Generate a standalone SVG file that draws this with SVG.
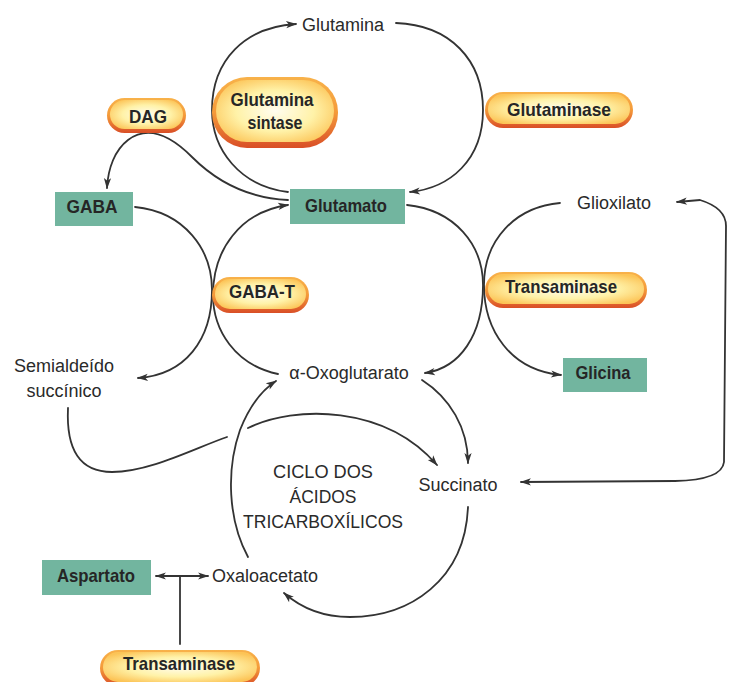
<svg xmlns="http://www.w3.org/2000/svg" width="731" height="682" viewBox="0 0 731 682">
<style>
.bg{fill:#ffffff}
.c{fill:none;stroke:#333;stroke-width:1.8;stroke-linecap:round}
.a{marker-end:url(#ah)}
.b{marker-start:url(#ah);marker-end:url(#ah)}
.t{font-family:"Liberation Sans",Arial,sans-serif;font-size:18px;fill:#2a2a2a;text-anchor:middle}
.bt{font-family:"Liberation Sans",Arial,sans-serif;font-size:19px;font-weight:bold;fill:#262626;text-anchor:middle}
.box{fill:#72b59f}
.po{fill:url(#rim)}
.pi{fill:url(#core)}
</style>
<defs>
<marker id="ah" viewBox="0 0 12 10" refX="11" refY="5" markerWidth="12" markerHeight="9" markerUnits="userSpaceOnUse" orient="auto-start-reverse">
<path d="M0,1 L12,5 L0,9 L3,5 z" fill="#333"/>
</marker>
<linearGradient id="rim" x1="0" y1="0" x2="0" y2="1">
<stop offset="0" stop-color="#f8b24a"/>
<stop offset="0.5" stop-color="#f49a3a"/>
<stop offset="1" stop-color="#d94e26"/>
</linearGradient>
<radialGradient id="core" cx="0.5" cy="0.5" r="0.6">
<stop offset="0" stop-color="#fffdf0"/>
<stop offset="0.55" stop-color="#fff2a8"/>
<stop offset="1" stop-color="#fcc457"/>
</radialGradient>
</defs>
<rect class="bg" x="0" y="0" width="731" height="682"/>

<g id="connectors">
<path class="c a" d="M288,192 C240,186 212,150 212,110 C212,60 245,27 296,24"/>
<path class="c a" d="M396,23 C450,25 483,60 483,110 C483,160 450,188 410,192"/>
<path class="c a" d="M288,200 C245,198 215,180 192,157 C170,135 148,125 128,140 C115,150 108,168 107,188"/>
<path class="c a" d="M135,207 C185,212 212,250 212,290 C212,340 185,375 138,378"/>
<path class="c a" d="M278,374 C235,365 213,330 213,295 C213,250 240,212 288,205"/>
<path class="c a" d="M407,205 C455,210 483,245 483,285 C483,335 460,368 425,373"/>
<path class="c a" d="M560,203 C515,207 484,240 484,285 C484,330 510,370 561,375"/>
<path class="c b" d="M521,482 L675,481 Q722,480 724,462 L726,226 Q726,208 700,200 L677,202"/>
<path class="c a" d="M422,380 C450,398 468,428 468,463"/>
<path class="c a" d="M468,507 C465,580 410,617 350,617 C320,617 300,607 284,593"/>
<path class="c a" d="M248,557 C228,520 226,470 240,430 C250,405 262,390 276,381"/>
<path class="c" d="M68,408 C66,450 80,472 112,472 C150,472 195,448 227,437"/>
<path class="c a" d="M248,428 C295,405 385,405 437,465"/>
<path class="c b" d="M156,576 L208,576"/>
<path class="c" d="M180,577 L180,644"/>
</g>

<g id="glutamina"><text class="t" x="343" y="31">Glutamina</text></g>

<g id="glutamina-sintase">
<rect class="po" x="212" y="77" width="126" height="71" rx="35"/>
<rect class="pi" x="216" y="80" width="118" height="62" rx="31"/>
<text class="bt" x="272" y="106" textLength="83" lengthAdjust="spacingAndGlyphs">Glutamina</text>
<text class="bt" x="275" y="129" textLength="55" lengthAdjust="spacingAndGlyphs">sintase</text>
</g>

<g id="dag">
<rect class="po" x="107" y="98" width="79" height="35" rx="17.5"/>
<rect class="pi" x="110" y="100" width="73" height="29" rx="14.5"/>
<text class="bt" x="148" y="123" textLength="38" lengthAdjust="spacingAndGlyphs">DAG</text>
</g>

<g id="glutaminase">
<rect class="po" x="485" y="92" width="148" height="36" rx="18"/>
<rect class="pi" x="488" y="94" width="142" height="30" rx="15"/>
<text class="bt" x="559" y="116" textLength="104" lengthAdjust="spacingAndGlyphs">Glutaminase</text>
</g>

<g id="gaba">
<rect class="box" x="55" y="192" width="78" height="34"/>
<text class="bt" x="92" y="213" textLength="51" lengthAdjust="spacingAndGlyphs">GABA</text>
</g>

<g id="glutamato">
<rect class="box" x="290" y="189" width="115" height="35"/>
<text class="bt" x="346" y="212" textLength="82" lengthAdjust="spacingAndGlyphs">Glutamato</text>
</g>

<g id="glioxilato"><text class="t" x="614" y="209">Glioxilato</text></g>

<g id="gaba-t">
<rect class="po" x="212" y="277" width="97" height="36" rx="18"/>
<rect class="pi" x="215" y="279" width="91" height="30" rx="15"/>
<text class="bt" x="262" y="298" textLength="66" lengthAdjust="spacingAndGlyphs">GABA-T</text>
</g>

<g id="transaminase-1">
<rect class="po" x="485" y="272" width="162" height="36" rx="18"/>
<rect class="pi" x="488" y="274" width="156" height="30" rx="15"/>
<text class="bt" x="561" y="293" textLength="112" lengthAdjust="spacingAndGlyphs">Transaminase</text>
</g>

<g id="semialdeido">
<text class="t" x="64" y="372">Semialdeído</text>
<text class="t" x="64" y="397">succínico</text>
</g>

<g id="alfa-oxoglutarato"><text class="t" x="349" y="379">α-Oxoglutarato</text></g>

<g id="glicina">
<rect class="box" x="563" y="358" width="84" height="34"/>
<text class="bt" x="603" y="379" textLength="55" lengthAdjust="spacingAndGlyphs">Glicina</text>
</g>

<g id="succinato"><text class="t" x="458" y="491">Succinato</text></g>

<g id="ciclo">
<text class="t" x="323" y="478" font-size="17" textLength="100" lengthAdjust="spacingAndGlyphs">CICLO DOS</text>
<text class="t" x="323" y="503" font-size="17" textLength="67" lengthAdjust="spacingAndGlyphs">ÁCIDOS</text>
<text class="t" x="323" y="528" font-size="17" textLength="160" lengthAdjust="spacingAndGlyphs">TRICARBOXÍLICOS</text>
</g>

<g id="oxaloacetato"><text class="t" x="265" y="582" textLength="106" lengthAdjust="spacingAndGlyphs">Oxaloacetato</text></g>

<g id="aspartato">
<rect class="box" x="42" y="560" width="109" height="35"/>
<text class="bt" x="96" y="582" textLength="78" lengthAdjust="spacingAndGlyphs">Aspartato</text>
</g>

<g id="transaminase-2">
<rect class="po" x="100" y="650" width="160" height="36" rx="18"/>
<rect class="pi" x="103" y="652" width="154" height="30" rx="15"/>
<text class="bt" x="179" y="670" textLength="112" lengthAdjust="spacingAndGlyphs">Transaminase</text>
</g>
</svg>
